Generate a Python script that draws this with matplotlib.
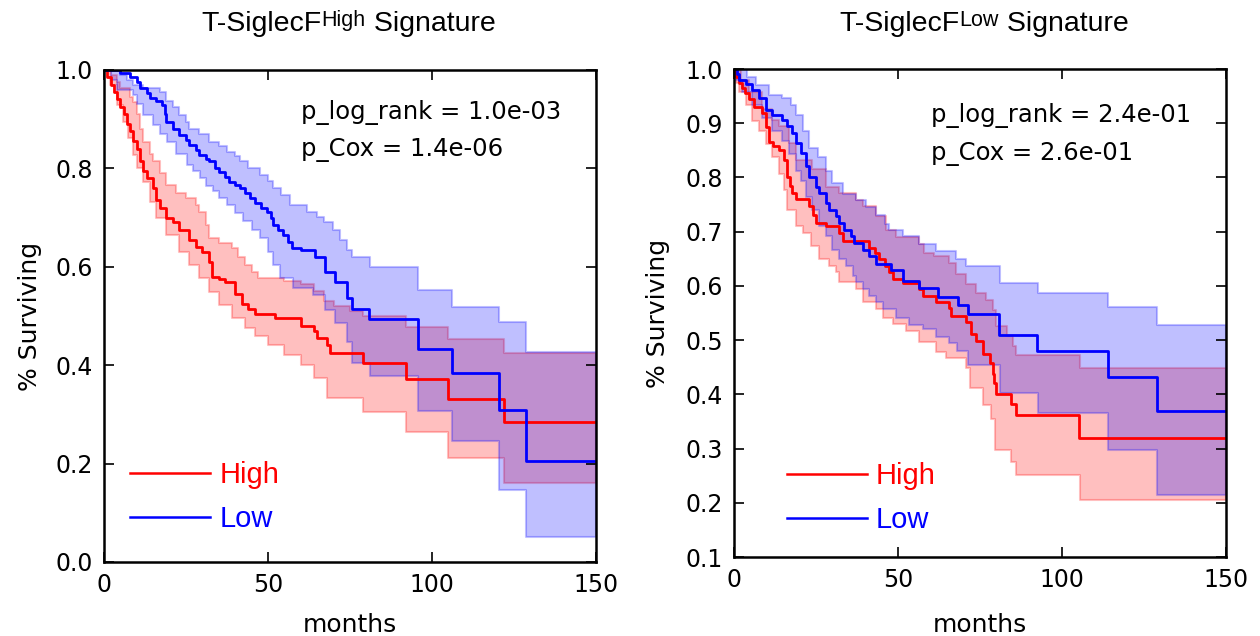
"""
Kaplan-Meier style survival curves for the T-SiglecF High / Low signatures.
"""

import matplotlib
matplotlib.use("Agg")
import matplotlib.pyplot as plt
import numpy as np

XMAX = 150

# ---- left panel: T-SiglecF High signature ----
hi_left_t = [0, 1, 2, 3, 4, 5, 6, 7, 8, 9, 10, 11, 12, 13, 15, 16, 17, 19, 21, 23, 26, 28,
             30, 32, 33, 35, 37, 40, 42, 44, 46, 52, 60, 64, 65, 68, 69, 79, 92, 105, 122]
hi_left_s = [1.0, 0.985, 0.97, 0.955, 0.94, 0.925, 0.91, 0.89, 0.875, 0.855, 0.84, 0.815,
             0.795, 0.78, 0.76, 0.735, 0.72, 0.70, 0.69, 0.675, 0.655, 0.64, 0.63, 0.61,
             0.58, 0.575, 0.57, 0.545, 0.525, 0.515, 0.505, 0.495, 0.48, 0.47, 0.455,
             0.44, 0.425, 0.404, 0.372, 0.331, 0.285]
hi_left_up_t = [0, 2, 4, 5, 8, 9, 10, 11, 12, 14, 15, 17, 19, 22, 25, 28, 29, 31, 32, 35,
                39, 41, 43, 45, 47, 55, 60, 64, 67, 70, 75, 79, 92, 105, 122]
hi_left_up_s = [1.0, 0.99, 0.975, 0.963, 0.945, 0.935, 0.91, 0.88, 0.854, 0.83, 0.814, 0.79,
                0.766, 0.75, 0.739, 0.725, 0.712, 0.685, 0.658, 0.648, 0.638, 0.62, 0.604,
                0.59, 0.577, 0.572, 0.565, 0.55, 0.53, 0.52, 0.51, 0.499, 0.478, 0.453, 0.424]
hi_left_lo_t = [0, 1.8, 3.9, 5.9, 7.4, 8.9, 10, 12, 14, 16, 19, 23, 26, 29, 32, 35, 39, 43,
                46, 50, 55, 60, 64, 68, 79, 92, 105, 122]
hi_left_lo_s = [1.0, 0.97, 0.929, 0.895, 0.861, 0.827, 0.80, 0.773, 0.732, 0.699, 0.665,
                0.631, 0.604, 0.577, 0.549, 0.522, 0.495, 0.475, 0.46, 0.44, 0.42, 0.40,
                0.374, 0.333, 0.305, 0.264, 0.211, 0.16]

lo_left_t = [0, 5, 8, 10, 11, 13, 14, 16, 17.6, 18.5, 19, 21, 23, 25, 26, 28, 29, 31, 32,
             34, 35, 37, 38, 40, 41.5, 43, 44.5, 46, 48, 49.6, 51, 51.6, 53, 54.7, 56,
             57.2, 60, 64.3, 67.4, 70.4, 74, 75.5, 80.8, 95.8, 106, 120.5, 128.6]
lo_left_s = [1.0, 0.993, 0.986, 0.975, 0.963, 0.953, 0.943, 0.936, 0.929, 0.91, 0.895,
             0.88, 0.868, 0.858, 0.848, 0.838, 0.827, 0.82, 0.814, 0.80, 0.793, 0.783,
             0.773, 0.767, 0.76, 0.75, 0.739, 0.73, 0.72, 0.712, 0.70, 0.685, 0.675, 0.665,
             0.65, 0.638, 0.634, 0.62, 0.59, 0.57, 0.536, 0.514, 0.493, 0.433, 0.385,
             0.308, 0.205]
lo_left_up_t = [0, 5, 7, 8.8, 12, 17, 19, 21, 23, 25, 26, 29, 32, 35, 37.4, 40, 41.5, 44,
                47.6, 50, 51.6, 54, 56.7, 61.8, 64.8, 67, 69.8, 72, 74, 75.5, 81, 95.8,
                106, 120.5, 128.6]
lo_left_up_s = [1.0, 0.99, 0.98, 0.97, 0.963, 0.956, 0.936, 0.925, 0.909, 0.895, 0.881,
                0.87, 0.854, 0.845, 0.834, 0.825, 0.814, 0.80, 0.787, 0.775, 0.76, 0.745,
                0.726, 0.712, 0.702, 0.69, 0.675, 0.655, 0.634, 0.62, 0.60, 0.553, 0.519,
                0.488, 0.427]
lo_left_lo_t = [0, 2, 3.9, 8.8, 10, 12, 15, 17, 19.1, 22, 25.2, 27, 29.3, 31, 33.3, 35,
                37.4, 40, 42.5, 45, 47.6, 50, 51.6, 53.7, 57.7, 63.8, 67.4, 70.4, 74,
                75.5, 81, 95.8, 106, 120.5, 128.6]
lo_left_lo_s = [1.0, 0.98, 0.959, 0.949, 0.93, 0.909, 0.888, 0.87, 0.854, 0.83, 0.807,
                0.795, 0.78, 0.765, 0.753, 0.74, 0.726, 0.71, 0.692, 0.675, 0.658, 0.63,
                0.604, 0.577, 0.556, 0.543, 0.512, 0.485, 0.448, 0.404, 0.377, 0.306,
                0.245, 0.146, 0.051]

# ---- right panel: T-SiglecF Low signature ----
hi_right_t = [0, 0.5, 1.5, 2.5, 3.5, 4.6, 6, 8.7, 9.7, 10.7, 12, 13.7, 15.3, 16.3, 17,
              17.8, 18.9, 22.9, 24, 25, 28, 32, 33.1, 41.3, 43, 44.3, 46, 47.4, 48.4,
              51.4, 56.5, 57.5, 61.6, 65.7, 66.2, 70.8, 72.3, 73.9, 75.9, 78, 79, 79.4,
              80, 84.6, 86, 105.2]
hi_right_s = [1.0, 0.986, 0.975, 0.965, 0.955, 0.945, 0.93, 0.918, 0.893, 0.865, 0.858,
              0.85, 0.832, 0.80, 0.785, 0.772, 0.76, 0.747, 0.73, 0.716, 0.71, 0.698,
              0.683, 0.67, 0.66, 0.649, 0.637, 0.625, 0.612, 0.606, 0.594, 0.581, 0.57,
              0.56, 0.545, 0.533, 0.511, 0.499, 0.475, 0.457, 0.438, 0.42, 0.40, 0.382,
              0.361, 0.32]
hi_right_up_t = [0, 2, 4.6, 8.7, 11.7, 13.7, 16.8, 18.9, 23.9, 28, 32.1, 37.2, 39.2, 43.3,
                 46.4, 49.4, 56.5, 58, 61, 65.7, 67.7, 70.8, 73.9, 76.9, 78.9, 80, 83.1,
                 85.1, 86, 105.4]
hi_right_up_s = [1.0, 0.98, 0.958, 0.926, 0.906, 0.894, 0.864, 0.833, 0.815, 0.783, 0.771,
                 0.759, 0.747, 0.728, 0.704, 0.69, 0.678, 0.661, 0.655, 0.643, 0.622,
                 0.604, 0.586, 0.574, 0.556, 0.526, 0.508, 0.49, 0.472, 0.448]
hi_right_lo_t = [0, 0.5, 1.5, 3.6, 5.6, 7.6, 9.7, 11.7, 13.7, 15.3, 16.3, 18.9, 20.9, 23.4,
                 26, 29, 31.1, 32.1, 37.2, 39.2, 43.3, 45.3, 48.4, 52.5, 56.5, 61.6, 64.7,
                 70.8, 72, 75.9, 78.5, 79.5, 84.6, 86, 105.5]
hi_right_lo_s = [1.0, 0.975, 0.958, 0.934, 0.904, 0.886, 0.861, 0.837, 0.807, 0.776, 0.74,
                 0.71, 0.698, 0.673, 0.649, 0.637, 0.625, 0.607, 0.594, 0.57, 0.558, 0.54,
                 0.53, 0.516, 0.497, 0.479, 0.467, 0.449, 0.412, 0.381, 0.355, 0.297,
                 0.275, 0.251, 0.205]

lo_right_t = [0, 0.8, 1.5, 3.6, 5.6, 7.6, 9.7, 11.7, 14.8, 16.3, 17.8, 18.9, 20.4, 21.9,
              22.9, 25, 26, 28, 29, 31.1, 32.1, 33.6, 35.7, 36.7, 39.2, 41.3, 43.3, 47.9,
              51.4, 56.5, 62.1, 68.2, 71.4, 80.8, 92.5, 113.9, 128.9]
lo_right_s = [1.0, 0.99, 0.98, 0.973, 0.962, 0.946, 0.925, 0.916, 0.906, 0.894, 0.882,
              0.864, 0.845, 0.821, 0.80, 0.783, 0.771, 0.752, 0.74, 0.728, 0.716, 0.704,
              0.692, 0.68, 0.667, 0.655, 0.64, 0.63, 0.609, 0.597, 0.579, 0.564, 0.549,
              0.51, 0.48, 0.432, 0.37]
lo_right_up_t = [0, 4, 6.6, 10.7, 14.8, 17.3, 18.9, 20.9, 22.9, 25.5, 28, 30, 33.1, 37.2,
                 40.3, 43.3, 46, 47.4, 51.4, 56.5, 61.6, 67.7, 70.8, 81, 92.7, 113.9, 128.9]
lo_right_up_s = [1.0, 0.985, 0.97, 0.952, 0.946, 0.934, 0.916, 0.886, 0.855, 0.837, 0.812,
                 0.789, 0.77, 0.759, 0.746, 0.73, 0.715, 0.704, 0.692, 0.678, 0.665, 0.649,
                 0.636, 0.605, 0.586, 0.562, 0.527]
lo_right_lo_t = [0, 0.5, 2.5, 5.6, 8.7, 11.7, 14.8, 16.8, 18.9, 20.4, 21.9, 23.9, 26, 28,
                 30, 32.1, 34.1, 36.2, 37.2, 39.2, 41.3, 43.3, 45.3, 49.4, 53.5, 57.5, 61.6,
                 65.7, 68, 71.4, 81, 92.7, 113.9, 128.9]
lo_right_lo_s = [1.0, 0.98, 0.958, 0.934, 0.91, 0.886, 0.868, 0.843, 0.812, 0.794, 0.764,
                 0.74, 0.71, 0.692, 0.667, 0.649, 0.637, 0.619, 0.607, 0.594, 0.582, 0.57,
                 0.558, 0.54, 0.528, 0.52, 0.505, 0.495, 0.48, 0.455, 0.402, 0.365, 0.297,
                 0.214]

p_left = ["p_log_rank = 1.0e-03", "p_Cox = 1.4e-06"]
p_right = ["p_log_rank = 2.4e-01", "p_Cox = 2.6e-01"]
titles = [("T-SiglecF", "High", " Signature"), ("T-SiglecF", "Low", " Signature")]

RED = "#ff0000"
BLUE = "#0000ff"
TITLE_FONT = "Liberation Sans"

plt.rcParams["font.family"] = "DejaVu Sans"


def step_eval(t, s, grid):
    """Value of a right-continuous step function at each grid point."""
    idx = np.searchsorted(np.asarray(t), grid, side="right") - 1
    return np.asarray(s)[np.clip(idx, 0, len(s) - 1)]


def draw_km(ax, t, s, lo_t, lo_s, up_t, up_s, color, label):
    grid = np.unique(np.concatenate([lo_t, up_t, [XMAX]]))
    lo = step_eval(lo_t, lo_s, grid)
    up = step_eval(up_t, up_s, grid)
    ax.fill_between(grid, lo, up, step="post", facecolor=color, alpha=0.25,
                    edgecolor=color, linewidth=1.5)
    tt = np.append(t, XMAX)
    ss = np.append(s, s[-1])
    ax.plot(tt, ss, drawstyle="steps-post", color=color, lw=2, label=label)


def style_axes(ax, yticks):
    ax.set_xlim(0, XMAX)
    ax.set_xticks([0, 50, 100, 150])
    ax.set_yticks(yticks)
    ax.set_yticklabels([f"{v:.1f}" for v in yticks])
    ax.set_ylim(yticks[0], yticks[-1])
    ax.tick_params(direction="in", top=True, right=True, length=7, width=1.2,
                   labelsize=17, pad=8)
    for sp in ax.spines.values():
        sp.set_linewidth(1.8)
    ax.set_xlabel("months", fontsize=18)
    ax.set_ylabel("% Surviving", fontsize=18)


def add_title(fig, ax, parts, xc, yc):
    main, sup, rest = parts
    t1 = fig.text(xc, yc, main, family=TITLE_FONT, fontsize=20.5, va="bottom")
    t2 = ax.annotate(sup, xy=(1, 0), xycoords=t1, xytext=(0, 4.5),
                     textcoords="offset points", family=TITLE_FONT, fontsize=15.5,
                     va="bottom", ha="left")
    t3 = ax.annotate(rest, xy=(1, 0), xycoords=(t2, t1), family=TITLE_FONT,
                     fontsize=20.5, va="bottom", ha="left")
    return t1, t3


fig = plt.figure(figsize=(12.6, 6.36), dpi=100)
ax1 = fig.add_axes([0.0825, 0.1164, 0.3905, 0.7736])
ax2 = fig.add_axes([0.5825, 0.1242, 0.3905, 0.7673])

draw_km(ax1, hi_left_t, hi_left_s, hi_left_lo_t, hi_left_lo_s, hi_left_up_t, hi_left_up_s,
        RED, "High")
draw_km(ax1, lo_left_t, lo_left_s, lo_left_lo_t, lo_left_lo_s, lo_left_up_t, lo_left_up_s,
        BLUE, "Low")
draw_km(ax2, hi_right_t, hi_right_s, hi_right_lo_t, hi_right_lo_s, hi_right_up_t,
        hi_right_up_s, RED, "High")
draw_km(ax2, lo_right_t, lo_right_s, lo_right_lo_t, lo_right_lo_s, lo_right_up_t,
        lo_right_up_s, BLUE, "Low")

style_axes(ax1, np.round(np.arange(0, 1.01, 0.2), 1))
style_axes(ax2, np.round(np.arange(0.1, 1.01, 0.1), 1))
ax1.xaxis.set_label_coords(0.5, -0.104)
ax2.xaxis.set_label_coords(0.5, -0.114)
ax1.yaxis.set_label_coords(-0.126, 0.5)
ax2.yaxis.set_label_coords(-0.13, 0.5)

for ax, texts, ys in [(ax1, p_left, (0.913, 0.837)), (ax2, p_right, (0.905, 0.825))]:
    for txt, y in zip(texts, ys):
        ax.text(0.4, y, txt, transform=ax.transAxes, fontsize=17.5, va="center")

for ax, anchor in [(ax1, (0.0, 0.005)), (ax2, (0.054, -0.007))]:
    leg = ax.legend(loc="lower left", bbox_to_anchor=anchor, frameon=False,
                    prop={"family": TITLE_FONT, "size": 21},
                    handlelength=2.75, handletextpad=0.3, labelspacing=0.55,
                    labelcolor="linecolor")
    for h in leg.get_lines():
        h.set_linewidth(1.8)

# composite titles with a lightly raised superscript, centred afterwards
title_y = 1 - 37 / 636
heads = [add_title(fig, ax1, titles[0], 0.2766, title_y),
         add_title(fig, ax2, titles[1], 0.781, title_y)]
fig.canvas.draw()
renderer = fig.canvas.get_renderer()
for (t1, t3), xc in zip(heads, (0.2766, 0.781)):
    x0 = t1.get_window_extent(renderer).x0
    x1 = t3.get_window_extent(renderer).x1
    width = (x1 - x0) / fig.bbox.width
    t1.set_x(xc - width / 2)

fig.savefig("out.png", dpi=100, facecolor="white")
